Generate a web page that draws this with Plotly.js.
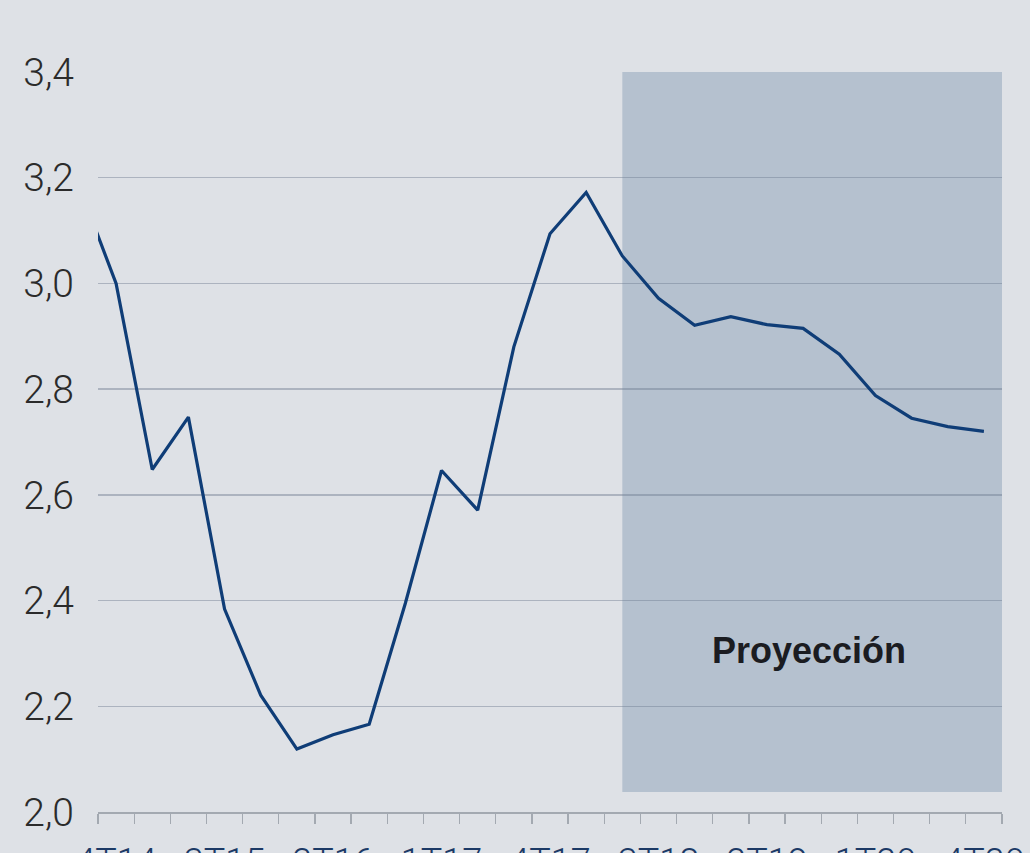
<!DOCTYPE html>
<html>
<head>
<meta charset="utf-8">
<script src="https://cdn.plot.ly/plotly-3.0.1.min.js"></script>
<style>
  html, body { margin: 0; padding: 0; overflow: hidden; background: #dee1e6; }
  #chart { width: 1030px; height: 853px; }
</style>
</head>
<body>
<div id="chart"></div>
<script>
// Quarters (the first one lies just left of the visible range and is clipped)
const quarters = ["3T14","4T14","1T15","2T15","3T15","4T15","1T16","2T16","3T16","4T16",
  "1T17","2T17","3T17","4T17","1T18","2T18","3T18","4T18","1T19","2T19","3T19","4T19",
  "1T20","2T20","3T20","4T20"];
const values = [3.18, 3.00, 2.648, 2.747, 2.384, 2.221, 2.119, 2.146, 2.166, 2.395,
  2.646, 2.571, 2.880, 3.094, 3.172, 3.052, 2.972, 2.921, 2.937, 2.922,
  2.915, 2.866, 2.788, 2.745, 2.729, 2.720];
const tickLabels = ["4T14","3T15","2T16","1T17","4T17","3T18","2T19","1T20","4T20"];
const projectionStart = "2T18";
const projectionLabel = "Proyección";
const projectionBottom = 2.038;

const firstShown = quarters.indexOf("4T14");
const xs = quarters.map((q, i) => i - firstShown);
const tickvals = tickLabels.map(q => quarters.indexOf(q) - firstShown);
const lastIdx = quarters.length - 1 - firstShown;
const projX = quarters.indexOf(projectionStart) - firstShown;

const trace = {
  x: xs, y: values, type: "scatter", mode: "lines",
  line: { color: "#0f3d77", width: 3.2 },
  hoverinfo: "skip"
};

const layout = {
  width: 1030, height: 853,
  margin: { l: 97.5, r: 28, t: 72, b: 41 },
  paper_bgcolor: "#dee1e6",
  plot_bgcolor: "#dee1e6",
  separators: ",.",
  showlegend: false,
  xaxis: {
    range: [-0.5, lastIdx + 0.5],
    tickmode: "array", tickvals: tickvals, ticktext: tickLabels,
    ticks: "", showgrid: false, zeroline: false,
    showline: true, linecolor: "#a3a9b1", linewidth: 1.5,
    tickfont: { family: "Roboto, Liberation Sans, sans-serif", size: 36, color: "#1c3a66", weight: 300 },
    ticklabelstandoff: 17,
    minor: { tickmode: "linear", tick0: -0.5, dtick: 1, ticks: "outside", ticklen: 10, tickwidth: 1.3, tickcolor: "#a3a9b1", showgrid: false }
  },
  yaxis: {
    range: [2.0, 3.4], tickmode: "linear", tick0: 2.0, dtick: 0.2,
    tickformat: ".1f",
    showgrid: true, gridcolor: "rgba(110,125,145,0.45)", gridwidth: 1.5,
    zeroline: false, showline: false, ticks: "",
    tickfont: { family: "Roboto, Liberation Sans, sans-serif", size: 39, color: "#2b2b2b", weight: 300 },
    ticklabelstandoff: 23
  },
  shapes: [{
    type: "rect", layer: "below", xref: "x", yref: "y",
    x0: projX, x1: lastIdx + 0.5, y0: projectionBottom, y1: 3.4,
    fillcolor: "#b5c1cf", line: { width: 0 }
  }],
  annotations: [{
    text: projectionLabel, xref: "x", yref: "y",
    x: (projX + lastIdx + 0.5) / 2 - 0.1, y: 2.305, showarrow: false,
    font: { family: "Liberation Sans, Arial, sans-serif", size: 36, color: "#1b1c21", weight: 700 }
  }]
};

Plotly.newPlot("chart", [trace], layout, { staticPlot: true, displayModeBar: false });
</script>
</body>
</html>
